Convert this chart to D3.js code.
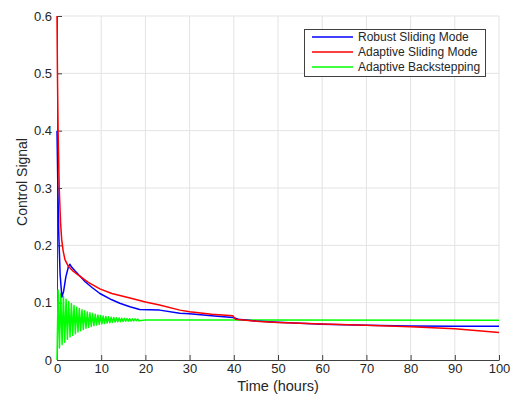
<!DOCTYPE html>
<html>
<head>
<meta charset="utf-8"/>
<title>Control Signal</title>
<script src="https://cdn.jsdelivr.net/npm/d3@7"></script>
<style>
  body, html {margin:0;padding:0;background:#fff;overflow:hidden;}
  text {font-family:"Liberation Sans", Arial, Helvetica, sans-serif;fill:#262626;}
</style>
</head>
<body>
<svg id="chart" width="520" height="397"></svg>
<script>
// series: [time (hours), control signal]
var robustSMC = [
  [0,0.40],[0.2,0.30],[0.4,0.22],[0.7,0.15],[1.1,0.11],[1.5,0.12],[2,0.145],[2.6,0.163],
  [2.9,0.167],[3.3,0.162],[4,0.156],[5,0.148],[5.7,0.142],[6.3,0.137],[8,0.126],[9.7,0.116],
  [12.4,0.105],[14.2,0.099],[16.5,0.093],[18.7,0.088],[21,0.0875],[23.2,0.087],[27.8,0.0815],
  [30,0.0805],[35,0.077],[39.8,0.074],[41,0.071],[45,0.068],[50,0.066],[55,0.064],[60,0.0625],
  [70,0.0605],[80,0.0595],[90,0.059],[100,0.0588]
];
var adaptiveSMC = [
  [0,0.60],[0.1,0.50],[0.25,0.40],[0.5,0.30],[0.8,0.24],[1.06,0.21],[1.4,0.19],[1.8,0.175],
  [2.6,0.163],[3.5,0.156],[5,0.147],[7,0.136],[9.7,0.124],[12.4,0.116],[16.5,0.108],[20,0.101],
  [23.2,0.096],[27.8,0.087],[30,0.084],[35,0.080],[39.8,0.077],[40.4,0.071],[45.8,0.067],
  [50,0.0655],[55,0.064],[60,0.063],[64,0.062],[70,0.0605],[80,0.058],[90,0.0545],[100,0.048]
];
var backstepping = [
  [0,0],[0.25,0.122],[0.55,0.021],[0.85,0.116],[1.15,0.027],[1.45,0.111],[1.75,0.031],
  [2.05,0.106],[2.35,0.036],[2.65,0.102],[2.95,0.040],[3.25,0.0985],[3.55,0.043],[3.85,0.095],
  [4.15,0.046],[4.45,0.092],[4.75,0.049],[5.05,0.090],[5.35,0.051],[5.65,0.0877],[5.95,0.0534],
  [6.25,0.0857],[6.55,0.0553],[6.85,0.0839],[7.15,0.0569],[7.45,0.0823],[7.75,0.0584],
  [8.05,0.0809],[8.35,0.0597],[8.65,0.0797],[8.95,0.0609],[9.25,0.0786],[9.55,0.0619],
  [9.85,0.0776],[10.15,0.0628],[10.45,0.0768],[10.75,0.0636],[11.05,0.076],[11.35,0.0644],
  [11.65,0.0753],[11.95,0.065],[12.25,0.0747],[12.55,0.0656],[12.85,0.0742],[13.15,0.0661],
  [13.45,0.0737],[13.75,0.0665],[14.05,0.0733],[14.35,0.0669],[14.65,0.0729],[14.95,0.0673],
  [15.25,0.0726],[15.55,0.0676],[15.85,0.0723],[16.15,0.0678],[16.45,0.0721],[16.75,0.068],
  [17.05,0.0719],[17.35,0.0682],[17.65,0.0717],[17.95,0.0684],[18.25,0.0715],[18.55,0.0686],
  [20,0.0698],[40,0.0696],[100,0.0694]
];
var seriesNames = ["Robust Sliding Mode", "Adaptive Sliding Mode", "Adaptive Backstepping"];
var seriesColors = ["#0000ff", "#ff0000", "#00ff00"];
var xTicks = [0,10,20,30,40,50,60,70,80,90,100];
var yTicks = [0,0.1,0.2,0.3,0.4,0.5,0.6];

var svg = d3.select("#chart");
var padL = 57, padR = 499, padT = 16, padB = 360;
var x = d3.scaleLinear().domain([0,100]).range([padL,padR]);
var y = d3.scaleLinear().domain([0,0.6]).range([padB,padT]);

// grid
svg.append("g").selectAll("line").data(xTicks.slice(1)).enter().append("line")
  .attr("x1", d => x(d)).attr("x2", d => x(d)).attr("y1", padT).attr("y2", padB)
  .attr("stroke", "#e3e3e3").attr("stroke-width", 1);
svg.append("g").selectAll("line").data(yTicks.slice(1)).enter().append("line")
  .attr("x1", padL).attr("x2", padR).attr("y1", d => y(d)).attr("y2", d => y(d))
  .attr("stroke", "#e3e3e3").attr("stroke-width", 1);

// axes (ticks point inward)
var xAxis = svg.append("g").attr("transform", "translate(0," + padB + ")")
  .call(d3.axisBottom(x).tickValues(xTicks).tickFormat(d3.format("d")).tickSizeInner(-5).tickSizeOuter(0).tickPadding(4));
var yAxis = svg.append("g").attr("transform", "translate(" + padL + ",0)")
  .call(d3.axisLeft(y).tickValues(yTicks).tickFormat(d => d === 0 ? "0" : d3.format(".1f")(d)).tickSizeInner(-5).tickSizeOuter(0).tickPadding(5));
[xAxis, yAxis].forEach(function (a) {
  a.select(".domain").attr("stroke", "#404040").attr("stroke-width", 1);
  a.selectAll(".tick line").attr("stroke", "#404040");
  a.selectAll(".tick text").attr("font-size", 13).attr("fill", "#333")
    .attr("font-family", "Liberation Sans, Arial, sans-serif");
});

// clip + lines
svg.append("clipPath").attr("id", "plotclip").append("rect")
  .attr("x", padL - 2).attr("y", padT - 2).attr("width", padR - padL + 3).attr("height", padB - padT + 2);
var line = d3.line().x(d => x(d[0])).y(d => y(d[1]));
var all = [robustSMC, adaptiveSMC, backstepping];
var drawOrder = [2, 0, 1];
svg.append("g").attr("clip-path", "url(#plotclip)").selectAll("path")
  .data(drawOrder).enter().append("path")
  .attr("d", i => line(all[i]))
  .attr("fill", "none").attr("stroke", i => seriesColors[i])
  .attr("stroke-width", 1.5).attr("stroke-linejoin", "round");

// axis labels
svg.append("text").attr("x", (padL + padR) / 2).attr("y", 391)
  .attr("text-anchor", "middle").attr("font-size", 14.5).text("Time (hours)");
svg.append("text").attr("transform", "translate(27,182) rotate(-90)")
  .attr("text-anchor", "middle").attr("font-size", 14).text("Control Signal");

// legend
var lg = svg.append("g");
lg.append("rect").attr("x", 304.5).attr("y", 29.5).attr("width", 181).attr("height", 47)
  .attr("fill", "#fff").attr("stroke", "#404040").attr("stroke-width", 1);
seriesNames.forEach(function (name, i) {
  var yy = 37 + i * 15;
  lg.append("line").attr("x1", 312).attr("x2", 353).attr("y1", yy).attr("y2", yy)
    .attr("stroke", seriesColors[i]).attr("stroke-width", 1.5);
  lg.append("text").attr("x", 358).attr("y", yy).attr("dy", "0.36em")
    .attr("font-size", 12).text(name);
});
</script>
</body>
</html>
